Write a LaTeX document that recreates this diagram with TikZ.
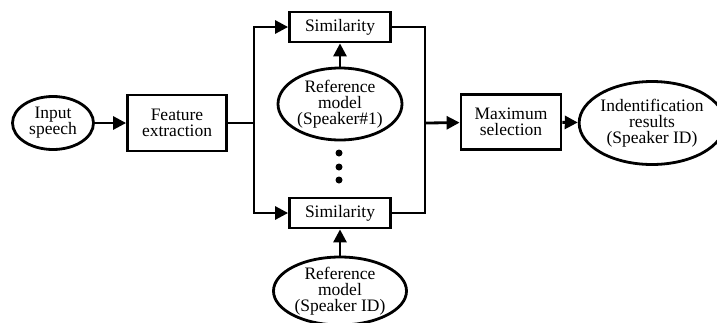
\documentclass[tikz,border=0pt]{standalone}
\usepackage{fontspec}
\setmainfont{Liberation Serif}
\usetikzlibrary{arrows.meta,positioning,shapes.geometric}

\begin{document}
\begin{tikzpicture}[
    x=1pt, y=1pt,
    line width=2.8pt,
    every node/.style={font=\fontsize{17.5pt}{16pt}\selectfont, align=center},
    box/.style={draw, inner sep=0pt, minimum width=100pt, minimum height=55pt},
    simbox/.style={box, minimum width=101pt, minimum height=30pt},
    model/.style={draw, ellipse, inner sep=0pt},
    arrow/.style={-{Triangle[length=13pt,width=13pt]}},
    dot/.style={circle, fill, inner sep=0pt, minimum size=7pt}
  ]
    \useasboundingbox[fill=white] (0,0) rectangle (717,-322);

    \node[model, minimum width=81pt, minimum height=53pt] (input) at (53,-123) {Input\\speech};
    \node[box, minimum width=99pt, minimum height=56pt] (feature) at (177,-123) {Feature\\extraction};
    \node[simbox] (sim1) at (340,-27) {Similarity};
    \node[model, minimum width=124pt, minimum height=72pt] (ref1) at (340,-104) {Reference\\model\\(Speaker\#1)};
    \node[simbox] (simN) at (340,-213) {Similarity};
    \node[model, minimum width=133pt, minimum height=68pt] (refN) at (340,-291) {Reference\\model\\(Speaker ID)};
    \node[box] (maxsel) at (511,-122) {Maximum\\selection};
    \node[model, minimum width=126pt, minimum height=83pt] (result) at (652,-123) {Indentification\\results\\(Speaker ID)};

    % vertical dots for the speakers in between
    \foreach \y [count=\i] in {153,167,180}
      \node[dot] (dot\i) at (339,-\y) {};

    \coordinate (split) at (254,-123);
    \coordinate (merge) at (425,-123);

    \draw[arrow] (input) -- (feature);
    \draw (feature) -- (split);
    \draw[arrow] (split) |- (sim1);
    \draw[arrow] (split) |- (simN);
    \draw[arrow] (ref1) -- (sim1);
    \draw[arrow] (refN) -- (simN);
    \draw (sim1) -| (merge);
    \draw (simN) -| (merge);
    \draw[arrow] (merge) -- (maxsel);
    \draw[arrow] (maxsel) -- (result);
\end{tikzpicture}
\end{document}
